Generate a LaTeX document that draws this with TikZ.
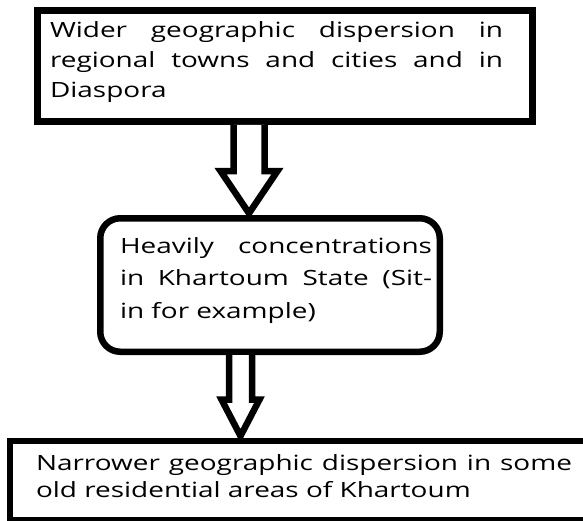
\documentclass[tikz,border=0pt]{standalone}
\usepackage{fontspec}
\setmainfont{Open Sans}[FakeStretch=1.33]
\usetikzlibrary{calc}
\begin{document}
\begin{tikzpicture}[x=1pt,y=-1pt,
  box/.style={draw=black, line width=6.5pt, fill=white, inner sep=0pt, outer sep=0pt, anchor=north west},
  blockarrow/.style={draw=black, line width=6.5pt, fill=white, line join=miter},
  txt/.style={anchor=base west, inner sep=0pt, outer sep=0pt, text=black}]
\useasboundingbox (0,0) rectangle (583,520);
\clip (0,0) rectangle (583,520);
% boxes
\node[box, minimum width=495pt, minimum height=111pt] (b1) at (37.5,10.5) {};
\node[box, rounded corners=20pt, minimum width=339.5pt, minimum height=133.5pt] (b2) at (100.25,218.25) {};
\node[box, minimum width=600pt, minimum height=79.5pt] (b3) at (10,441) {};
% texts
\node[txt] (t1) at (50,37) {\parbox[t]{470pt}{\fontsize{21}{30}\selectfont
  \makebox[453pt][s]{Wider geographic dispersion in}\\
  \makebox[453pt][s]{regional towns and cities and in}\\
  Diaspora}};
\node[txt] (t2) at (120,253) {\parbox[t]{320pt}{\fontsize{21}{32.5}\selectfont
  \makebox[312pt][s]{Heavily concentrations}\\
  \makebox[312pt][s]{in Khartoum State (Sit-}\\
  in for example)}};
\node[txt] (t3) at (36,470) {\parbox[t]{560pt}{\fontsize{21}{27}\selectfont
  \makebox[536pt][s]{Narrower geographic dispersion in some}\\
  old residential areas of Khartoum}};
% block arrows
\path (b1.south) ++(0,3.25) coordinate (a1top);
\path (b2.north) ++(0,-5) coordinate (a1tip);
\draw[blockarrow] (233.5,0 |- a1top) -- (233.5,171) -- (220.5,171) -- (249,0 |- a1tip)
  -- (277.5,171) -- (264.5,171) -- (264.5,0 |- a1top);
\path (b2.south) ++(0,3.25) coordinate (a2top);
\path (b3.north) ++(0,-5) coordinate (a2tip);
\draw[blockarrow] (229,0 |- a2top) -- (229,399.5) -- (221.5,399.5) -- (240.5,0 |- a2tip)
  -- (259.5,399.5) -- (252,399.5) -- (252,0 |- a2top);
\end{tikzpicture}
\end{document}
